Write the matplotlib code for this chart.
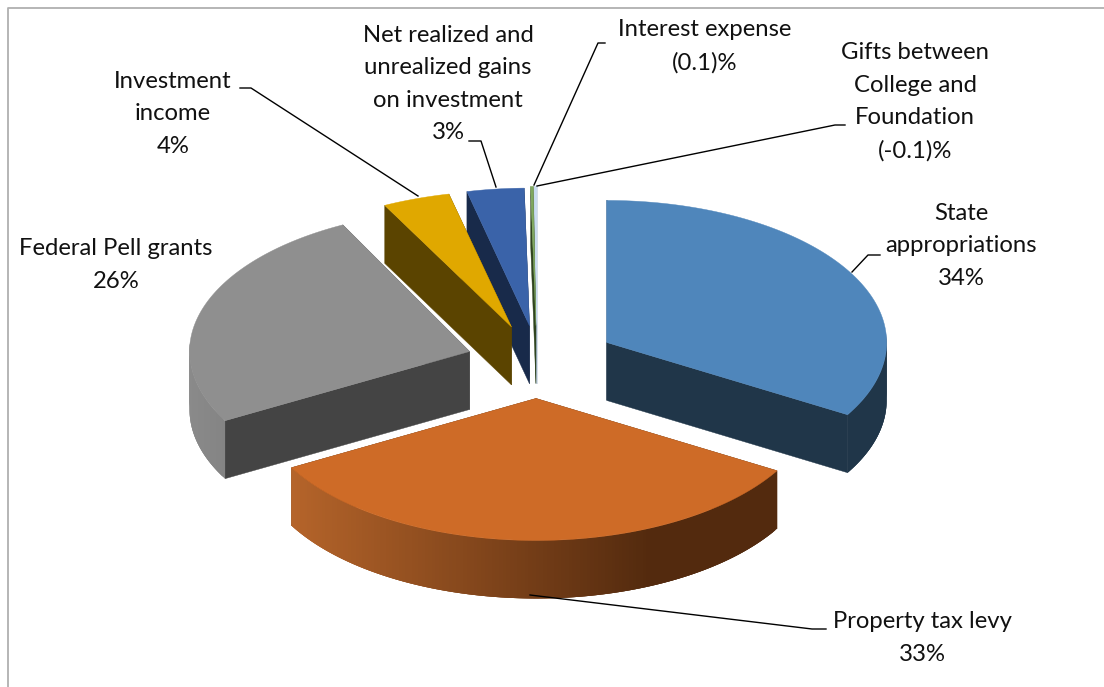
"""
      Exploded 3D style pie of college revenue sources, drawn in pixel
      coordinates on one axes.
"""
import numpy as np
import matplotlib
matplotlib.use("Agg")
import matplotlib.pyplot as plt
from matplotlib.patches import Polygon

names = ["State\nappropriations", "Property tax levy", "Federal Pell grants",
         "Investment\nincome", "Net realized and\nunrealized gains\non investment",
         "Gifts between\nCollege and\nFoundation", "Interest expense"]
shares = [33.6, 33.5, 25.7, 3.9, 3.3, 0.15, 0.15]
percents = ["34%", "33%", "26%", "4%", "3%", "(-0.1)%", "(0.1)%"]

top_colors = ["#4F86BB", "#CE6B27", "#8F8F8F", "#E0A800", "#3A63A9", "#7FA85F", "#C9DCF1"]
side_colors = ["#203649", "#5B2F0F", "#444444", "#5B4400", "#182A4A", "#2F4420", "#9DB4CC"]
rim_left = ["#203649", "#B5642A", "#8A8A8A", "#5B4400", "#182A4A", "#2F4420", "#9DB4CC"]
rim_right = ["#203649", "#532A0E", "#777777", "#5B4400", "#182A4A", "#2F4420", "#9DB4CC"]

# pie geometry, in picture pixels
cx, cy = 538.0, 361.0
rx, ry = 280.0, 142.0
explode = 0.278
depth = 58.0
nudge = [(1, 1), (-1, -2), (6, 2), (0, 3), (1, 4), (-1, 4), (-1, 4)]
ry_scale = [1, 1, 1, 0.96, 0.97, 0.98, 0.98]

label_pos = [(961, 246), (922, 638), (116, 265), (173, 114), (448, 84), (915, 102), (705, 46)]
leaders = [[(880, 255), (868, 255), (852, 272)],
           [(826, 629), (812, 629), (530, 595)],
           None,
           [(240, 88), (251, 88), (418, 196)],
           [(469, 141), (481, 141), (496, 187)],
           [(845, 125), (835, 125), (537, 186)],
           [(605, 43), (598, 43), (534, 185)]]


def draw_slice(ax, i, start, stop, z):
    mid = 0.5*(start + stop)
    x0 = cx + explode*rx*np.sin(mid) + nudge[i][0]
    y0 = cy - explode*ry*np.cos(mid) + nudge[i][1]
    ang = np.linspace(start, stop, 161)
    xs = x0 + rx*np.sin(ang)
    ys = y0 - ry*ry_scale[i]*np.cos(ang)

    # radial walls, back one first
    walls = sorted([(xs[0], ys[0]), (xs[-1], ys[-1])], key=lambda p: p[1])
    for (xw, yw) in walls:
        wall = [(x0, y0), (xw, yw), (xw, yw + depth), (x0, y0 + depth)]
        ax.add_patch(Polygon(wall, facecolor=side_colors[i], edgecolor=side_colors[i],
                             lw=0.3, zorder=z))

    # outer wall, shaded from left to right; strips overlap so no seams show
    left = np.array(matplotlib.colors.to_rgb(rim_left[i]))
    right = np.array(matplotlib.colors.to_rgb(rim_right[i]))
    span = max(xs.max() - xs.min(), 1.0)
    for k in range(len(ang) - 1):
        if np.cos(ang[k]) > 0.05 and np.cos(ang[k + 1]) > 0.05:
            continue
        f = min(1.0, (0.5*(xs[k] + xs[k + 1]) - xs.min())/span*1.35)
        col = left + (right - left)*f
        e = min(k + 3, len(ang) - 1)
        quad = list(zip(xs[k:e + 1], ys[k:e + 1])) + \
            list(zip(xs[k:e + 1][::-1], ys[k:e + 1][::-1] + depth))
        ax.add_patch(Polygon(quad, facecolor=col, edgecolor="none", lw=0, zorder=z + 0.1))

    face = [(x0, y0)] + list(zip(xs, ys))
    ax.add_patch(Polygon(face, facecolor=top_colors[i], edgecolor=top_colors[i],
                         lw=0.3, zorder=z + 0.2))


def main():
    fig = plt.figure(figsize=(11.04, 6.87), dpi=100)
    ax = fig.add_axes([0, 0, 1, 1])
    ax.set_xlim(0, 1104)
    ax.set_ylim(687, 0)
    ax.axis("off")

    # chart frame: the picture is cropped, only the top and left edges show
    ax.plot([7.5, 7.5, 1104], [687, 8, 8], color="#B0B0B0", lw=1.3, zorder=1)

    stops = np.cumsum(shares)/np.sum(shares)*2*np.pi
    starts = np.concatenate(([0.0], stops[:-1]))

    # painter's order: the back slices first
    order = [6, 5, 4, 3, 2, 0, 1]
    for n, i in enumerate(order):
        draw_slice(ax, i, starts[i], stops[i], 2 + n)

    for i, name in enumerate(names):
        ax.text(label_pos[i][0], label_pos[i][1], name + "\n" + percents[i],
                ha="center", va="center", family="Lato", fontsize=17.2,
                color="#111111", linespacing=1.67, zorder=20)
        if leaders[i] is not None:
            px, py = zip(*leaders[i])
            ax.plot(px, py, color="black", lw=1.0, zorder=19)

    fig.savefig("out.png", dpi=100)


main()
